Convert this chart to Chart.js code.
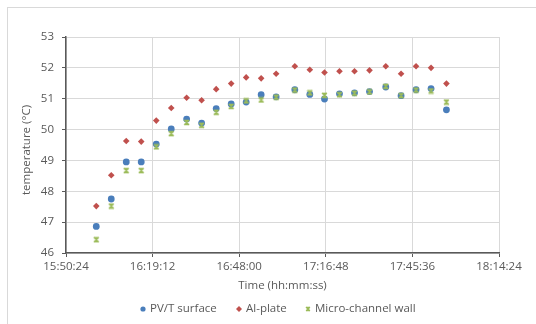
<!DOCTYPE html>
<html>
<head>
<meta charset="utf-8">
<script src="https://cdn.jsdelivr.net/npm/chart.js@4/dist/chart.umd.min.js"></script>
<style>
  html, body { margin: 0; padding: 0; background: #fff; overflow: hidden; }
  #wrap { position: relative; width: 536px; height: 324px; overflow: hidden; }
  #frame { position: absolute; left: 7px; top: 7px; width: 560px; height: 340px; border: 1px solid #d9d9d9; box-sizing: border-box; }
  canvas { position: absolute; left: 0; top: 0; }
</style>
</head>
<body>
<div id="wrap">
  <div id="frame"></div>
  <canvas id="grafico" width="536" height="324"></canvas>
</div>
<script>
// tiempos de medida (hh:mm:ss)
const tiempos = ['16:00:28', '16:05:27', '16:10:26', '16:15:25', '16:20:25', '16:25:24',
  '16:30:31', '16:35:30', '16:40:21', '16:45:20', '16:50:19', '16:55:18',
  '17:00:17', '17:06:30', '17:11:29', '17:16:22', '17:21:21', '17:26:21',
  '17:31:20', '17:36:45', '17:41:50', '17:46:49', '17:51:48', '17:56:55'];

const pvtSurface = [46.86, 47.75, 48.95, 48.95, 49.53, 50.02, 50.34, 50.21, 50.68, 50.83, 50.89, 51.13,
  51.06, 51.29, 51.14, 50.99, 51.16, 51.19, 51.23, 51.38, 51.10, 51.29, 51.33, 50.64];
const alPlate = [47.52, 48.52, 49.63, 49.61, 50.29, 50.70, 51.03, 50.95, 51.31, 51.49, 51.69, 51.66,
  51.81, 52.05, 51.94, 51.85, 51.89, 51.89, 51.92, 52.05, 51.81, 52.05, 52.00, 51.49];
const microWall = [46.43, 47.52, 48.67, 48.67, 49.44, 49.87, 50.23, 50.14, 50.56, 50.75, 50.93, 50.96,
  51.05, 51.28, 51.19, 51.11, 51.13, 51.18, 51.22, 51.40, 51.10, 51.28, 51.25, 50.89];

const seriesNames = ['PV/T surface', 'Al-plate', 'Micro-channel wall'];
const xTicks = ['15:50:24', '16:19:12', '16:48:00', '17:16:48', '17:45:36', '18:14:24'];
const yMin = 46, yMax = 53;

const toSec = s => { const p = s.split(':').map(Number); return p[0] * 3600 + p[1] * 60 + p[2]; };
const pad2 = n => String(n).padStart(2, '0');
const toHms = v => { v = Math.round(v); return pad2(Math.floor(v / 3600)) + ':' + pad2(Math.floor(v % 3600 / 60)) + ':' + pad2(v % 60); };

const xMin = toSec(xTicks[0]);
const xMax = toSec(xTicks[xTicks.length - 1]);
const xStep = toSec(xTicks[1]) - xMin;

const puntos = arr => arr.map((v, i) => ({ x: toSec(tiempos[i]), y: v }));

// marcador "x" estilo Excel (X con barras arriba y abajo)
function crearMarcadorX(size, color) {
  const c = document.createElement('canvas');
  c.width = size; c.height = size;
  const g = c.getContext('2d');
  g.strokeStyle = color;
  g.lineWidth = 1.4;
  const a = 1, b = size - 1;
  g.beginPath();
  g.moveTo(a, a); g.lineTo(b, b);
  g.moveTo(b, a); g.lineTo(a, b);
  g.moveTo(a, a + 0.5); g.lineTo(b, a + 0.5);
  g.moveTo(a, b - 0.5); g.lineTo(b, b - 0.5);
  g.stroke();
  return c;
}

const AZUL = '#4a7ebb', ROJO = '#c0504d', VERDE = '#9bbb59';
const TEXTO = '#595959';
const FUENTE = '"Open Sans", sans-serif';

// títulos de ejes y leyenda
const extras = {
  id: 'extras',
  afterDraw(chart) {
    const ctx = chart.ctx, area = chart.chartArea;
    ctx.save();
    ctx.fillStyle = TEXTO;
    ctx.font = '11.5px ' + FUENTE;
    ctx.textAlign = 'center';
    ctx.textBaseline = 'middle';
    ctx.fillText('Time (hh:mm:ss)', (area.left + area.right) / 2, 286);
    ctx.save();
    ctx.translate(27, (area.top + area.bottom) / 2 + 5);
    ctx.rotate(-Math.PI / 2);
    ctx.fillText('temperature (°C)', 0, 0);
    ctx.restore();

    // leyenda
    const ly = 309;
    const items = [
      { x: 143, color: AZUL, tipo: 'circle' },
      { x: 239, color: ROJO, tipo: 'diamond' },
      { x: 308, color: VERDE, tipo: 'x' }
    ];
    ctx.textAlign = 'left';
    items.forEach((it, i) => {
      ctx.fillStyle = it.color;
      if (it.tipo === 'circle') {
        ctx.beginPath(); ctx.arc(it.x, ly, 2.6, 0, Math.PI * 2); ctx.fill();
      } else if (it.tipo === 'diamond') {
        ctx.beginPath();
        ctx.moveTo(it.x, ly - 3); ctx.lineTo(it.x + 3, ly); ctx.lineTo(it.x, ly + 3); ctx.lineTo(it.x - 3, ly);
        ctx.closePath(); ctx.fill();
      } else {
        ctx.drawImage(crearMarcadorX(6, it.color), it.x - 3, ly - 3);
      }
      ctx.fillStyle = TEXTO;
      ctx.fillText(seriesNames[i], it.x + 7, ly);
    });
    ctx.restore();
  }
};

new Chart(document.getElementById('grafico').getContext('2d'), {
  type: 'scatter',
  data: {
    datasets: [
      {
        label: seriesNames[0],
        data: puntos(pvtSurface),
        backgroundColor: AZUL,
        borderColor: AZUL,
        pointStyle: 'circle',
        pointRadius: 3.4,
        borderWidth: 0,
        order: 3
      },
      {
        label: seriesNames[1],
        data: puntos(alPlate),
        backgroundColor: ROJO,
        borderColor: ROJO,
        pointStyle: 'rectRot',
        pointRadius: 3.3,
        borderWidth: 0,
        order: 2
      },
      {
        label: seriesNames[2],
        data: puntos(microWall),
        pointStyle: crearMarcadorX(7, VERDE),
        order: 1
      }
    ]
  },
  options: {
    responsive: false,
    animation: false,
    devicePixelRatio: 1,
    layout: { padding: { top: 37, right: 37, left: 0, bottom: 0 } },
    plugins: { legend: { display: false }, tooltip: { enabled: false } },
    scales: {
      x: {
        type: 'linear',
        min: xMin,
        max: xMax,
        afterFit: s => { s.height = 71; },
        afterBuildTicks: s => { s.ticks = xTicks.map(t => ({ value: toSec(t) })); },
        ticks: {
          callback: v => toHms(v),
          color: TEXTO,
          font: { family: FUENTE, size: 11.5 },
          padding: 3,
          maxRotation: 0,
          autoSkip: false
        },
        grid: { color: '#d9d9d9', lineWidth: 1, tickLength: 4, tickColor: '#595959' },
        border: { color: '#595959', width: 1.5 }
      },
      y: {
        min: yMin,
        max: yMax,
        afterFit: s => { s.width = 66; },
        ticks: {
          stepSize: 1,
          color: TEXTO,
          font: { family: FUENTE, size: 11.5 },
          padding: 8
        },
        grid: { color: '#d9d9d9', lineWidth: 1, tickLength: 4, tickColor: '#595959' },
        border: { color: '#595959', width: 1.5 }
      }
    }
  },
  plugins: [extras]
});
</script>
</body>
</html>
